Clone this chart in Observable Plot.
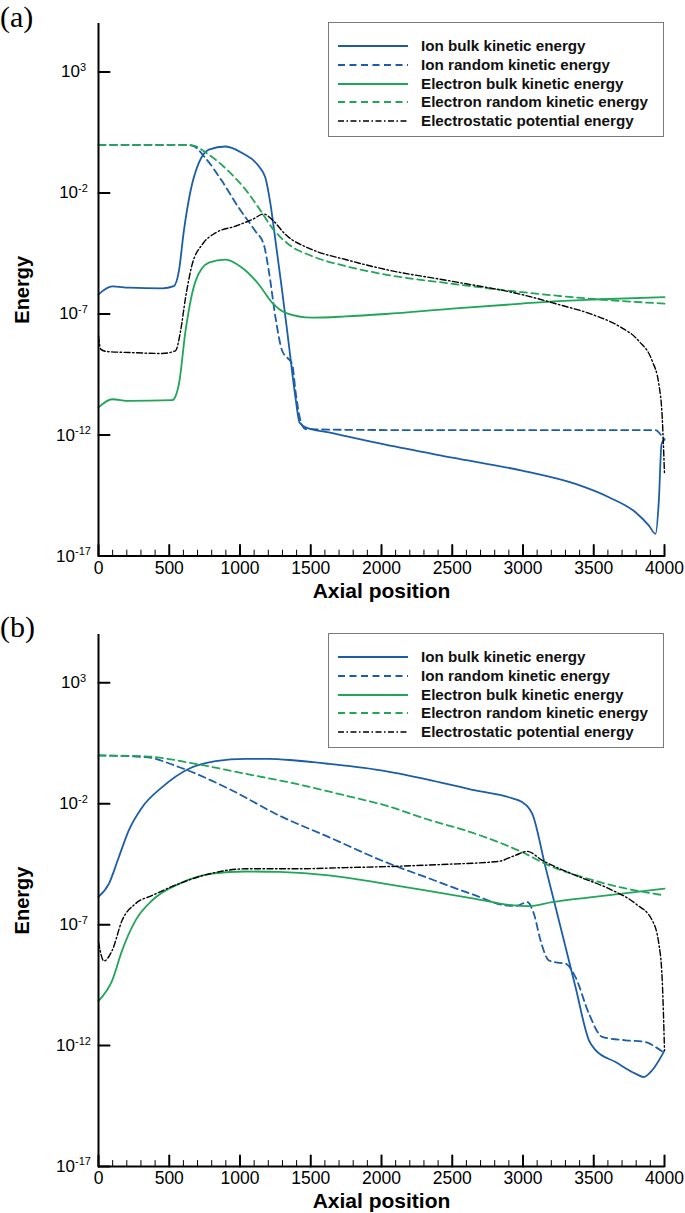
<!DOCTYPE html>
<html>
<head>
<meta charset="utf-8">
<script src="https://cdn.jsdelivr.net/npm/d3@7"></script>
<script src="https://cdn.jsdelivr.net/npm/@observablehq/plot@0.6"></script>
<style>
  html, body { margin: 0; padding: 0; background: #fff; }
  body { width: 685px; font-family: "Liberation Sans", Arial, sans-serif; }
  .panel { position: relative; width: 685px; }
  .panel svg { display: block; overflow: visible; }
  .plabel { position: absolute; left: 0; font-family: "Liberation Serif", "DejaVu Serif", serif; font-size: 30px; line-height: 1; color: #000; }
  .legend { position: absolute; background: #fff; border: 1px solid #7a7a7a; box-sizing: border-box; }
  .legend .row { position: absolute; left: 0; height: 18px; display: flex; align-items: center; }
  .legend .row svg { position: absolute; left: 9px; top: 0; }
  .legend .row span { position: absolute; left: 92px; white-space: nowrap; font: bold 15.2px "Liberation Sans", Arial, sans-serif; color: #111; line-height: 18px; }
</style>
</head>
<body>
<div id="chart"></div>
<script>
// ---------- shared axis data ----------
const xMajorTicks = [0, 500, 1000, 1500, 2000, 2500, 3000, 3500, 4000];
const xMinorTicks = [100, 200, 300, 400, 600, 700, 800, 900, 1100, 1200, 1300, 1400, 1600, 1700, 1800, 1900,
  2100, 2200, 2300, 2400, 2600, 2700, 2800, 2900, 3100, 3200, 3300, 3400, 3600, 3700, 3800, 3900];
const yTicks = [1e3, 1e-2, 1e-7, 1e-12, 1e-17];
const yTickExponents = ["3", "-2", "-7", "-12", "-17"];
const seriesNames = ["Ion bulk kinetic energy", "Ion random kinetic energy", "Electron bulk kinetic energy",
  "Electron random kinetic energy", "Electrostatic potential energy"];
const panelLabels = ["(a)", "(b)"];
const xLabel = "Axial position";
const yLabel = "Energy";

// ---------- panel (a): x positions and log10(energy) ----------
const aIonBulkX = [0, 97, 214, 450, 532, 568, 603, 650, 709, 780, 898, 1015, 1133, 1180, 1216, 1251, 1298, 1345, 1392, 1421, 1463, 1628, 2028, 2500, 2994, 3371, 3607, 3795, 3890, 3937, 3960, 3979, 4000];
const aIonBulkLog = [-6.19, -5.86, -5.91, -5.94, -5.85, -5.23, -3.58, -1.93, -0.76, -0.21, -0.08, -0.35, -0.90, -1.38, -2.48, -3.99, -6.05, -8.25, -10.45, -11.48, -11.68, -11.89, -12.40, -12.93, -13.47, -14.02, -14.57, -15.19, -15.74, -16.08, -14.71, -12.38, -12.17];

const aIonRandX = [0, 300, 600, 662, 756, 874, 992, 1109, 1168, 1204, 1251, 1298, 1334, 1369, 1392, 1428, 1463, 1700, 2500, 3000, 3500, 3937, 3970, 4000];
const aIonRandLog = [-0.01, -0.01, -0.01, -0.04, -0.56, -1.52, -2.62, -3.58, -4.13, -5.23, -7.15, -8.52, -8.80, -9.07, -10.17, -11.41, -11.75, -11.78, -11.80, -11.80, -11.80, -11.80, -11.96, -12.20];

const aElBulkX = [0, 97, 214, 521, 568, 615, 686, 780, 898, 1015, 1133, 1227, 1322, 1510, 1746, 2028, 2500, 2994, 3250, 3501, 4000];
const aElBulkLog = [-10.86, -10.52, -10.59, -10.56, -9.90, -7.70, -5.64, -4.88, -4.75, -5.09, -5.78, -6.53, -6.95, -7.15, -7.10, -7.00, -6.78, -6.57, -6.47, -6.40, -6.30];

const aElRandX = [0, 300, 600, 662, 780, 921, 1039, 1133, 1227, 1345, 1510, 1746, 2028, 2500, 2994, 3250, 3501, 4000];
const aElRandLog = [-0.01, -0.01, -0.01, -0.03, -0.42, -1.11, -1.86, -2.62, -3.44, -4.13, -4.61, -5.02, -5.37, -5.75, -6.10, -6.25, -6.38, -6.57];

const aEsX = [0, 15, 60, 214, 450, 544, 580, 615, 662, 733, 827, 968, 1086, 1168, 1227, 1322, 1510, 1746, 2028, 2500, 2994, 3254, 3489, 3677, 3819, 3913, 3960, 3984, 4000];
const aEsLog = [-7.90, -8.45, -8.55, -8.59, -8.63, -8.52, -7.70, -6.33, -4.95, -4.13, -3.65, -3.37, -3.10, -2.87, -3.10, -3.72, -4.34, -4.75, -5.16, -5.65, -6.20, -6.61, -7.02, -7.50, -8.12, -8.94, -9.90, -11.28, -13.61];

// ---------- panel (b) ----------
const bIonBulkX = [0, 73, 144, 214, 309, 450, 639, 827, 1039, 1204, 1392, 1628, 2028, 2358, 2664, 2900, 2994, 3030, 3065, 3159, 3230, 3301, 3371, 3466, 3513, 3654, 3795, 3854, 3913, 3988, 4000];
const bIonBulkLog = [-5.85, -5.31, -4.20, -3.10, -2.14, -1.31, -0.55, -0.24, -0.14, -0.14, -0.21, -0.35, -0.65, -1.04, -1.45, -1.73, -1.93, -2.10, -2.41, -4.62, -6.27, -7.93, -9.58, -11.78, -12.19, -12.68, -13.16, -13.30, -13.02, -12.33, -12.20];

const bIonRandX = [0, 332, 568, 921, 1275, 1628, 2028, 2311, 2664, 2876, 2950, 3030, 3077, 3124, 3183, 3260, 3301, 3371, 3466, 3560, 3725, 3866, 3937, 4000];
const bIonRandLog = [0.0, -0.07, -0.48, -1.38, -2.48, -3.38, -4.41, -5.03, -5.79, -6.20, -6.22, -6.07, -6.55, -7.65, -8.48, -8.58, -8.61, -9.17, -10.68, -11.64, -11.78, -11.85, -12.06, -12.30];

const bElBulkX = [0, 97, 167, 262, 380, 568, 803, 1039, 1275, 1628, 2028, 2311, 2664, 2900, 3041, 3206, 3489, 4000];
const bElBulkLog = [-10.15, -9.30, -8.06, -6.82, -5.99, -5.31, -4.89, -4.80, -4.82, -4.96, -5.31, -5.58, -5.93, -6.18, -6.23, -6.07, -5.86, -5.51];

const bElRandX = [0, 332, 686, 1039, 1392, 1746, 2028, 2311, 2664, 2994, 3183, 3419, 3701, 4000];
const bElRandLog = [0.0, -0.04, -0.35, -0.76, -1.17, -1.66, -2.07, -2.62, -3.24, -4.00, -4.55, -5.03, -5.47, -5.79];

const bEsX = [0, 38, 97, 167, 262, 380, 568, 803, 1039, 1392, 1746, 2028, 2429, 2829, 2947, 3030, 3136, 3371, 3607, 3795, 3913, 3960, 3984, 4000];
const bEsLog = [-7.72, -8.50, -8.06, -6.82, -6.13, -5.79, -5.31, -4.87, -4.69, -4.69, -4.64, -4.60, -4.51, -4.38, -4.13, -3.97, -4.34, -4.96, -5.51, -6.13, -6.82, -7.79, -9.30, -12.19];

// ---------- styles ----------
const BLUE = "#1b5dab", GREEN = "#1fa656", BLACK = "#000";
const seriesStyles = [
  {stroke: BLUE, dash: null, width: 1.8},
  {stroke: BLUE, dash: "7,4.5", width: 1.8},
  {stroke: GREEN, dash: null, width: 1.8},
  {stroke: GREEN, dash: "7,4.5", width: 1.8},
  {stroke: BLACK, dash: "6,2.5,1.5,2.5", width: 1.4}
];

const panels = [
  {label: panelLabels[0], height: 606, marginTop: 23, marginBottom: 50.4, labelTop: 2,
   series: [[aIonBulkX, aIonBulkLog], [aIonRandX, aIonRandLog], [aElBulkX, aElBulkLog], [aElRandX, aElRandLog], [aEsX, aEsLog]]},
  {label: panelLabels[1], height: 607, marginTop: 28, marginBottom: 47, labelTop: 6,
   series: [[bIonBulkX, bIonBulkLog], [bIonRandX, bIonRandLog], [bElBulkX, bElBulkLog], [bElRandX, bElRandLog], [bEsX, bEsLog]]}
];

const tickShape = {draw(ctx, l) { ctx.moveTo(0, 0); ctx.lineTo(0, -l); }};

const root = document.getElementById("chart");

for (const p of panels) {
  const div = document.createElement("div");
  div.className = "panel";
  div.style.height = p.height + "px";

  const lineMarks = p.series.map(([xs, logs], i) => {
    const data = xs.map((x, j) => ({x, y: Math.pow(10, logs[j])}));
    const s = seriesStyles[i];
    return Plot.line(data, {x: "x", y: "y", stroke: s.stroke, strokeWidth: s.width,
      strokeDasharray: s.dash, curve: "monotone-x", strokeLinejoin: "round"});
  });

  const svg = Plot.plot({
    width: 685, height: p.height,
    marginTop: p.marginTop, marginBottom: p.marginBottom, marginLeft: 98, marginRight: 21,
    style: {fontFamily: "'Liberation Sans', Arial, sans-serif", background: "transparent", color: "#000"},
    x: {domain: [0, 4000]},
    y: {type: "log", domain: [1e-17, 1e5]},
    marks: [
      ...lineMarks,
      Plot.axisX({ticks: xMajorTicks, tickSize: 0, tickPadding: 5, fontSize: 17.5, tickFormat: d => String(d), label: null}),
      Plot.axisY({ticks: yTicks, tickSize: 0, tickPadding: 25, textAnchor: "middle", fontSize: 17,
        tickFormat: d => "10^" + yTickExponents[yTicks.indexOf(d)], label: null}),
      Plot.ruleX([0], {strokeWidth: 2}),
      Plot.ruleY([1e-17], {strokeWidth: 2}),
      Plot.vector(xMajorTicks, {x: d => d, y: () => 1e-17, length: 11, rotate: 0, anchor: "start", shape: tickShape, strokeWidth: 2}),
      Plot.vector(xMinorTicks, {x: d => d, y: () => 1e-17, length: 6, rotate: 0, anchor: "start", shape: tickShape, strokeWidth: 1}),
      Plot.vector(yTicks, {x: () => 0, y: d => d, length: 11, rotate: 90, anchor: "start", shape: tickShape, strokeWidth: 2}),
      Plot.text([yLabel], {text: d => d, frameAnchor: "left", dx: -76, rotate: -90, fontSize: 20, fontWeight: "bold", textAnchor: "middle", lineAnchor: "middle"}),
      Plot.text([xLabel], {text: d => d, frameAnchor: "bottom", dy: 35, fontSize: 21, fontWeight: "bold", textAnchor: "middle", lineAnchor: "middle"})
    ]
  });

  // superscript exponents on y tick labels
  d3.select(svg).selectAll('g[aria-label="y-axis tick label"] text').each(function() {
    const t = this.textContent;
    const [base, exp] = t.split("^");
    const sel = d3.select(this);
    sel.text(null);
    sel.append("tspan").text(base);
    sel.append("tspan").attr("dy", "-6.5").attr("font-size", "11").text(exp);
  });

  div.appendChild(svg);

  // panel label
  const lab = document.createElement("div");
  lab.className = "plabel";
  lab.style.top = p.labelTop + "px";
  lab.textContent = p.label;
  div.appendChild(lab);

  // legend
  const leg = document.createElement("div");
  leg.className = "legend";
  leg.style.left = "328px";
  leg.style.top = (p.marginTop - 1) + "px";
  leg.style.width = "336px";
  leg.style.height = "115px";
  seriesNames.forEach((name, i) => {
    const row = document.createElement("div");
    row.className = "row";
    row.style.top = (14 + i * 18.75) + "px";
    const s = seriesStyles[i];
    row.innerHTML = `<svg width="72" height="18"><line x1="0" y1="9" x2="70" y2="9" stroke="${s.stroke}" stroke-width="${s.width}" ${s.dash ? `stroke-dasharray="${s.dash}"` : ""}/></svg><span>${name}</span>`;
    leg.appendChild(row);
  });
  div.appendChild(leg);

  root.appendChild(div);
}
</script>
</body>
</html>
